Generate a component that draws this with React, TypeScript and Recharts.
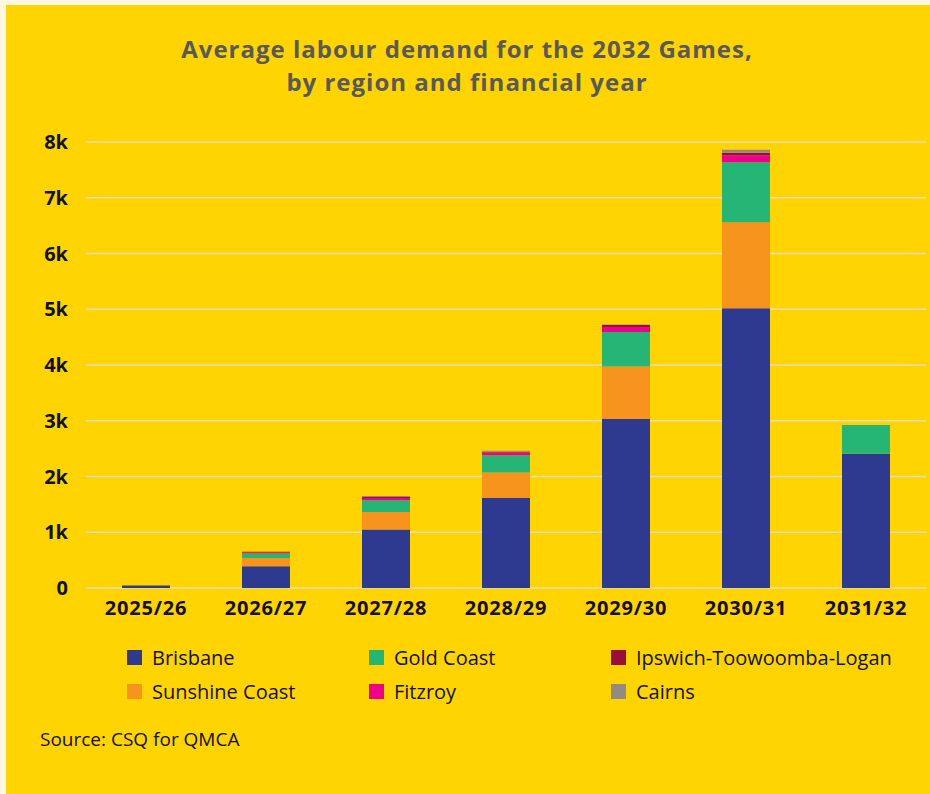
import React from 'react';
import { BarChart, Bar, XAxis, YAxis, CartesianGrid } from 'recharts';

const years = ['2025/26', '2026/27', '2027/28', '2028/29', '2029/30', '2030/31', '2031/32'];
const brisbane = [45, 390, 1050, 1615, 3030, 5020, 2410];
const sunshineCoast = [0, 150, 315, 455, 945, 1540, 0];
const goldCoast = [0, 77, 210, 311, 616, 1075, 515];
const fitzroy = [0, 20, 40, 48, 90, 126, 0];
const ipswich = [0, 15, 18, 15, 36, 48, 0];
const cairns = [0, 0, 15, 20, 10, 54, 0];
const yTicks = [0, 1000, 2000, 3000, 4000, 5000, 6000, 7000, 8000];
const titleLines = ['Average labour demand for the 2032 Games,', 'by region and financial year'];

const series = [
  { key: 'brisbane', name: 'Brisbane', color: '#2E3A8F', values: brisbane },
  { key: 'sunshine', name: 'Sunshine Coast', color: '#F7941D', values: sunshineCoast },
  { key: 'gold', name: 'Gold Coast', color: '#25B574', values: goldCoast },
  { key: 'fitzroy', name: 'Fitzroy', color: '#EC008C', values: fitzroy },
  { key: 'ipswich', name: 'Ipswich-Toowoomba-Logan', color: '#9B0D3A', values: ipswich },
  { key: 'cairns', name: 'Cairns', color: '#948A84', values: cairns },
];

const legendOrder = ['brisbane', 'gold', 'ipswich', 'sunshine', 'fitzroy', 'cairns'];

const data = years.map((y, i) => {
  const row: any = { year: y };
  series.forEach((s) => (row[s.key] = s.values[i]));
  return row;
});

const font = '"Open Sans", "Noto Sans", sans-serif';

export default function App() {
  const legendCols = [127, 369, 611];
  const legendRows = [648, 682];
  return (
    <div style={{ position: 'absolute', left: 0, top: 0, width: 930, height: 794, background: '#FFF8E1', fontFamily: font }}>
      <div style={{ position: 'absolute', left: 6, top: 5, width: 924, height: 789, background: '#FFD400' }} />
      {titleLines.map((t, i) => (
        <div
          key={i}
          style={{
            position: 'absolute',
            left: 0,
            top: 32 + i * 33,
            width: 934,
            height: 33,
            textAlign: 'center',
            color: '#58595B',
            fontWeight: 700,
            fontSize: 24,
            letterSpacing: 1,
            lineHeight: '33px',
            whiteSpace: 'nowrap',
          }}
        >
          {t}
        </div>
      ))}
      <div style={{ position: 'absolute', left: 0, top: 0 }}>
        <BarChart width={930} height={630} data={data} margin={{ top: 142, right: 4, left: 0, bottom: 12 }} barSize={48}>
          <CartesianGrid vertical={false} stroke="#E6DDBB" strokeWidth={1.5} horizontalValues={yTicks} />
          <XAxis
            dataKey="year"
            axisLine={false}
            tickLine={false}
            tickSize={0}
            tickMargin={13}
            height={30}
            interval={0}
            tick={{ fill: '#111', fontSize: 20, fontWeight: 700, fontFamily: font, letterSpacing: 0.8 }}
          />
          <YAxis
            domain={[0, 8000]}
            ticks={yTicks}
            width={86}
            axisLine={false}
            tickLine={false}
            tickSize={0}
            tickMargin={18}
            tickFormatter={(v: number) => (v === 0 ? '0' : `${v / 1000}k`)}
            tick={{ fill: '#111', fontSize: 20, fontWeight: 700, fontFamily: font }}
          />
          {series.map((s) => (
            <Bar key={s.key} dataKey={s.key} name={s.name} stackId="a" fill={s.color} isAnimationActive={false} />
          ))}
        </BarChart>
      </div>
      {legendOrder.map((k, idx) => {
        const s = series.find((x) => x.key === k)!;
        const col = idx % 3;
        const row = Math.floor(idx / 3);
        return (
          <div key={k} style={{ position: 'absolute', left: legendCols[col], top: legendRows[row], display: 'flex', alignItems: 'center', height: 18 }}>
            <div style={{ width: 15, height: 15, background: s.color, marginRight: 10 }} />
            <span style={{ fontSize: 20, color: '#111', whiteSpace: 'nowrap' }}>{s.name}</span>
          </div>
        );
      })}
      <div style={{ position: 'absolute', left: 40, top: 726, fontSize: 19, color: '#111' }}>Source: CSQ for QMCA</div>
    </div>
  );
}
